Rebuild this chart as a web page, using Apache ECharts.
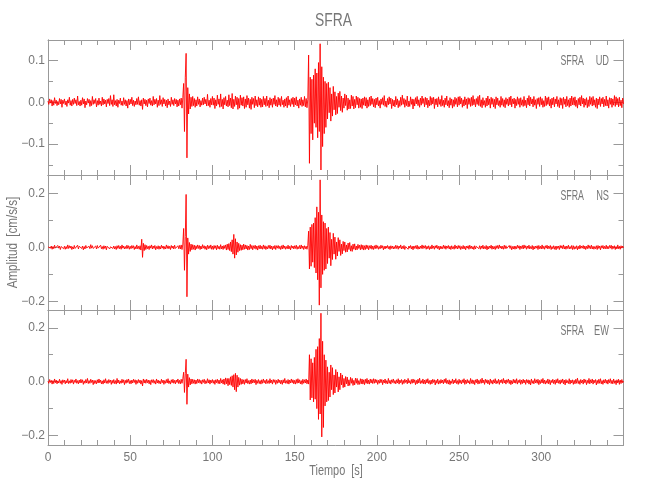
<!DOCTYPE html>
<html>
<head>
<meta charset="utf-8">
<script src="https://cdn.jsdelivr.net/npm/echarts@6/dist/echarts.min.js"></script>
<style>html,body{margin:0;padding:0;background:#fff}#chart{width:650px;height:500px}</style>
</head>
<body>
<div id="chart"></div>
<script>
// Sampling: first sample at 0 s, one sample every 0.5 s
const sampleStart = 0;
const sampleStep = 0.5;
// Trace values below are written in units of 0.001 cm/s/s
const valueUnit = 0.001;

// Vertical component (UD), 10 s per row
const udValues = [
3,-5,8,-2,6,-9,4,-7,11,-3,5,-8,2,-6,9,-4,7,-12,5,-3,
8,-6,3,-10,6,-2,12,-7,4,-9,7,-5,10,-3,6,-8,15,-6,2,-9,
5,-7,11,-4,8,-13,3,-6,9,-2,7,-10,4,-8,14,-5,6,-3,9,-11,
4,-7,10,-5,3,-9,12,-6,8,-4,5,-11,7,-3,9,-8,16,-5,6,-10,
18,-6,4,-9,7,-12,5,-3,10,-7,3,-8,11,-5,6,-9,4,-14,8,-6,
7,-4,12,-8,5,-10,3,-6,9,-5,13,-7,4,-9,6,-17,10,-4,7,-8,
5,-11,8,-3,10,-7,4,-9,14,-6,7,-4,9,-12,5,-8,16,-5,6,-10,
11,-4,7,-9,5,-13,8,-6,3,-10,12,-5,6,-8,9,-4,7,-11,5,-9,
8,-6,10,-14,12,45,-70,60,117,-133,35,-28,20,-16,12,-10,14,-8,9,-12,
6,-9,13,-5,8,-11,4,-7,10,-6,12,-4,7,-9,19,-8,5,-12,9,-6,
14,-7,10,-15,6,-9,17,-5,8,-12,20,-10,7,-16,11,-6,14,-9,5,-11,
18,-8,10,-13,21,-16,7,-10,15,-6,12,-17,9,-14,17,-7,11,-9,13,-15,
8,-12,16,-6,10,-14,7,-17,12,-5,9,-13,15,-8,6,-11,13,-7,10,-12,
7,-11,14,-6,9,-10,15,-8,5,-13,11,-7,8,-12,10,-5,16,-9,6,-11,
12,-7,9,-10,14,-6,5,-12,8,-9,11,-13,15,-7,6,-10,9,-5,12,-11,
10,-6,13,-9,5,-14,8,-7,12,-10,6,-8,14,-11,9,-13,7,113,-146,60,
-75,55,-90,65,-50,80,-60,70,-85,95,-70,140,-162,85,-106,60,-75,50,-60,45,
-40,48,-25,35,-45,20,-33,38,-18,25,-30,14,-27,22,-12,26,-20,15,-24,10,
-14,20,-8,17,-19,10,-16,6,-15,17,-9,14,-16,7,-13,15,-6,12,-14,9,
-12,8,-15,10,-7,13,-9,11,-14,6,-10,12,-8,15,-5,9,-11,7,-13,10,
-6,12,-9,4,-14,8,-5,11,-7,16,-10,3,-12,9,-6,13,-4,10,-15,7,
-9,5,-11,14,-6,8,-13,4,-10,12,-7,17,-5,9,-12,6,-8,15,-11,3,
-10,13,-5,8,-16,7,-9,11,-4,14,-8,6,-12,10,-7,15,-3,9,-11,12,
-6,10,-13,5,-9,14,-7,11,-4,12,-15,8,-6,9,-11,13,-5,7,-10,16,
-8,5,-12,10,-6,15,-9,4,-13,11,-7,8,-14,6,-10,12,-5,9,-11,13,
-7,14,-4,10,-12,6,-9,13,-6,8,-15,11,-5,9,-10,12,-8,16,-6,7,
-11,9,-5,14,-8,17,-10,6,-13,11,-7,4,-12,10,-9,15,-6,8,-14,12,
-5,9,-11,7,-15,13,-6,10,-8,4,-12,14,-7,9,-10,6,-13,11,-5,8,
-9,12,-6,15,-11,8,-4,10,-14,7,-8,13,-5,9,-12,11,-7,6,-10,14,
-8,5,-13,10,-6,16,-9,12,-4,8,-11,14,-7,6,-15,9,-5,11,-10,13,
-6,9,-12,4,-10,15,-8,11,-5,13,-9,7,-14,10,-6,12,-11,8,-4,14,
-10,6,-13,11,-7,9,-15,12,-5,8,-11,14,-8,6,-12,10,-9,15,-6,11,
-7,13,-10,5,-14,9,-6,12,-9,16,-4,10,-12,8,-7,11,-13,6,-10,14,
-5,11,-9,14,-7,6,-12,10,-15,8,-6,13,-10,9,-4,12,-11,7,-8,15,
-9,6,-14,11,-5,10,-12,8,-7,16,-10,13,-6,9,-11,12,-8,5,-13,10,
-4
];

// North-south component (NS), 10 s per row
const nsValues = [
2,-4,6,-3,5,-7,3,-5,8,-2,4,-6,7,-3,5,-8,3,-4,6,-5,
4,-7,3,-5,9,-4,6,-3,5,-8,2,-6,7,-4,3,-5,8,-6,4,-3,
6,-4,5,-9,3,-6,7,-2,5,-7,4,-5,10,-3,6,-4,3,-8,5,-6,
7,-3,4,-6,8,-5,3,-7,6,-4,5,-9,4,-3,7,-6,2,-5,8,-4,
5,-6,3,-8,6,-4,7,-5,4,-7,9,-3,5,-6,3,-5,8,-4,6,-7,
4,-5,7,-3,6,-8,3,-6,9,-5,4,-7,6,-10,30,-37,15,-12,10,-8,
7,-5,4,-8,6,-3,9,-6,5,-4,7,-9,3,-5,6,-7,4,-6,8,-3,
5,-7,3,-6,9,-4,6,-5,4,-8,7,-3,5,-6,8,-4,3,-7,6,-5,
7,-6,9,-8,12,70,-85,40,196,-183,35,-25,18,-15,12,-9,10,-7,8,-10,
6,-5,9,-4,7,-8,5,-6,10,-3,6,-7,4,-9,8,-5,6,-4,9,-7,
5,-8,7,-4,6,-9,8,-5,4,-7,10,-6,5,-8,7,-4,9,-10,12,-8,
14,-12,20,-16,28,-25,48,-40,32,-28,20,-18,15,-12,10,-11,8,-9,12,-7,
9,-6,7,-10,5,-8,11,-5,7,-9,6,-4,8,-7,5,-10,6,-5,8,-6,
4,-7,9,-5,6,-8,3,-6,7,-4,8,-6,5,-9,4,-5,7,-8,6,-3,
7,-5,4,-8,6,-6,9,-4,5,-7,3,-5,8,-6,4,-9,7,-3,5,-6,
6,-4,8,-7,3,-5,7,-6,9,-4,5,-8,6,-5,4,-7,8,60,-80,75,
-70,85,-55,90,-75,110,-95,150,-120,130,-214,250,-150,120,-100,95,-85,90,-80,70,
-60,75,-40,55,-68,30,-45,52,-25,38,-44,20,-32,36,-15,28,-30,12,-24,22,
-12,20,-18,9,-17,16,-8,18,-14,6,-15,12,-7,13,-10,5,-9,11,-4,8,
-9,10,-7,8,-10,6,-8,9,-5,7,-9,6,-4,8,-7,5,-8,6,-5,9,
-4,6,-7,3,-5,8,-3,6,-9,4,-6,5,-3,7,-5,4,-8,6,-4,5,
-6,3,-5,8,-4,6,-7,5,-3,9,-6,4,-5,7,-8,3,-4,6,-7,5,
-3,7,-6,4,-9,5,-4,6,-5,8,-7,3,-6,5,-4,9,-5,6,-3,7,
-7,4,-5,6,-8,3,-6,9,-4,5,-7,6,-3,8,-5,4,-9,5,-6,3,
-5,8,-4,6,-7,5,-3,7,-6,4,-8,6,-5,3,-7,9,-4,5,-6,7,
-4,6,-8,3,-5,7,-6,4,-9,5,-3,6,-7,8,-4,5,-6,3,-8,6,
-6,4,-3,9,-5,6,-7,5,-4,8,-6,3,-5,7,-9,4,-6,5,-3,8,
-7,5,-6,3,-8,6,-4,7,-5,9,-3,5,-6,4,-7,8,-5,6,-4,3,
-5,7,-4,6,-9,3,-6,5,-7,4,-5,8,-3,6,-8,5,-4,7,-6,9,
-3,6,-7,5,-4,8,-6,3,-5,7,-9,4,-6,5,-3,6,-8,7,-5,4,
-6,9,-5,4,-7,6,-3,8,-6,5,-4,7,-8,3,-5,6,-7,4,-9,5,
-4,5,-8,7,-3,6,-5,9,-6,4,-7,5,-4,8,-6,3,-5,7,-8,6,
-7,3,-5,6,-9,4,-6,8,-4,5,-3,7,-6,5,-8,4,-5,9,-4,6,
-5,8,-6,4,-7,3,-5,6,-8,7,-4,5,-9,6,-3,7,-6,4,-5,8,
-6,4,-5,7,-3,8,-7,5,-4,6,-8,3,-6,9,-5,4,-7,6,-3,5,
-2
];

// East-west component (EW), 10 s per row
const ewValues = [
2,-6,8,-3,5,-9,4,-7,10,-4,6,-8,3,-5,9,-6,4,-10,7,-3,
6,-8,4,-5,11,-7,3,-6,8,-4,7,-9,5,-3,10,-6,4,-8,6,-5,
9,-4,7,-10,3,-6,8,-5,12,-7,4,-6,9,-3,6,-11,5,-7,4,-8,
7,-5,10,-4,6,-8,3,-9,7,-5,11,-6,4,-7,8,-3,6,-10,5,-6,
8,-7,4,-9,12,-5,6,-8,3,-6,9,-4,7,-11,5,-6,8,-3,10,-7,
4,-8,6,-5,9,-3,7,-10,5,-6,8,-4,6,-9,4,-16,10,-5,7,-6,
9,-4,6,-8,5,-11,7,-3,8,-6,4,-9,10,-5,6,-7,3,-8,9,-4,
6,-10,4,-6,8,-5,11,-7,3,-9,7,-4,9,-6,5,-8,6,-3,10,-7,
5,-8,9,-6,12,35,-40,30,83,-84,28,-20,15,-12,10,-8,9,-6,7,-9,
6,-7,10,-4,8,-6,5,-9,7,-3,9,-8,4,-6,11,-5,7,-9,6,-4,
8,-6,5,-10,7,-4,9,-7,6,-8,12,-5,7,-9,10,-11,14,-8,12,-15,
12,-11,18,-14,22,-20,26,-30,31,-37,24,-20,16,-13,12,-10,9,-8,7,-10,
8,-5,11,-7,4,-9,6,-8,10,-5,7,-4,9,-11,5,-6,8,-7,4,-9,
7,-6,10,-4,5,-8,9,-6,4,-7,11,-5,6,-9,8,-3,7,-10,5,-6,
9,-4,6,-8,5,-10,7,-5,12,-6,4,-7,8,-9,6,-5,10,-4,7,-8,
5,-9,8,-6,11,-5,7,-8,4,-10,9,-6,7,-5,10,-8,6,-9,100,-68,
85,-60,70,-75,90,-65,120,-100,130,-140,160,-120,254,-205,150,-170,100,-90,80,-75,
55,-70,35,-57,62,-30,52,-48,25,-42,45,-20,36,-38,18,-30,32,-12,25,-22,
12,-20,19,-8,17,-16,7,-14,16,-6,12,-14,5,-12,13,-6,12,-11,4,-10,
11,-8,10,-9,7,-11,9,-6,12,-8,6,-9,10,-5,8,-7,11,-6,9,-4,
7,-10,5,-6,9,-4,8,-11,6,-5,10,-7,4,-8,12,-6,5,-9,7,-3,
10,-6,4,-8,7,-5,11,-9,6,-4,8,-10,5,-7,9,-3,6,-8,12,-5,
4,-9,8,-6,10,-4,7,-11,5,-8,9,-5,13,-7,4,-6,10,-8,6,-9,
8,-5,11,-7,4,-10,6,-8,9,-3,7,-12,5,-6,10,-9,4,-7,8,-5,
6,-8,9,-4,12,-7,5,-9,7,-11,3,-6,10,-8,6,-5,11,-7,4,-10,
9,-6,5,-8,7,-4,11,-10,6,-7,8,-5,4,-9,12,-6,7,-8,5,-11,
7,-4,10,-9,5,-7,8,-6,13,-5,6,-10,9,-4,7,-8,5,-11,10,-6,
5,-9,7,-5,11,-8,4,-6,9,-10,6,-4,8,-7,12,-5,6,-9,7,-3,
10,-7,6,-11,4,-8,9,-5,7,-6,11,-9,5,-4,8,-10,6,-7,9,-5,
6,-10,8,-4,7,-9,5,-12,10,-6,4,-8,11,-5,7,-6,9,-11,5,-7,
8,-5,12,-7,6,-9,4,-6,10,-8,7,-11,5,-4,9,-7,6,-10,8,-5,
11,-6,5,-9,7,-4,10,-8,6,-12,8,-5,4,-7,11,-9,6,-5,7,-10,
5,-8,9,-6,13,-7,4,-10,8,-5,6,-9,10,-4,7,-11,5,-6,12,-8,
7,-5,10,-9,6,-4,8,-12,5,-7,9,-6,11,-8,4,-10,7,-5,9,-6,
6,-9,8,-4,11,-7,5,-8,10,-6,4,-11,7,-5,9,-10,6,-7,8,-4,
2
];

// Axis ranges and tick values for each panel (cm/s/s)
const xRange = [0, 350];
const xTickStep = 50;
const panelYRanges = [[-0.174, 0.149], [-0.232, 0.268], [-0.235, 0.266]];
const panelMajorTicks = [[-0.1, 0, 0.1], [-0.2, 0, 0.2], [-0.2, 0, 0.2]];
const panelMinorTicks = [[-0.15, -0.05, 0.05], [-0.1, 0.1], [-0.1, 0.1]];
const stationName = 'SFRA';
const channelNames = ['UD', 'NS', 'EW'];
const traces = [udValues, nsValues, ewValues];

const chart = echarts.init(document.getElementById('chart'), null, {renderer: 'canvas'});

const font = "'Liberation Sans',Arial,sans-serif";
const axisColor = '#999999';
const textColor = '#777777';
const gridTops = [40, 175, 310];
const gridH = 135;
const gridLeft = 48;
const gridW = 575.5;

const grids = [], xAxes = [], yAxes = [], series = [], graphics = [];

function fmt(v) {
  const s = Math.abs(v).toFixed(1);
  return v < -1e-9 ? '\u2212' + s : s;
}

function yAxisDef(g, pos, ticks, len, labels) {
  const [ymin, ymax] = panelYRanges[g % 3];
  return {
    type: 'value', gridIndex: g, position: pos, min: ymin, max: ymax,
    axisLine: {show: true, onZero: false, lineStyle: {color: axisColor, width: 1}},
    axisTick: {show: true, inside: true, length: len, customValues: ticks, lineStyle: {color: axisColor}},
    splitLine: {show: false},
    axisLabel: labels ? {show: true, customValues: ticks, formatter: fmt, margin: 3, color: textColor, fontFamily: font, fontSize: 12} : {show: false}
  };
}

// main grids (0..2): x bottom/top with major+minor ticks, y left/right major ticks
for (let g = 0; g < 3; g++) {
  grids.push({left: gridLeft, top: gridTops[g], width: gridW, height: gridH});
  ['bottom', 'top'].forEach(pos => {
    xAxes.push({
      type: 'value', gridIndex: g, position: pos, min: xRange[0], max: xRange[1], interval: xTickStep,
      axisLine: {show: true, onZero: false, lineStyle: {color: axisColor, width: 1}},
      axisTick: {show: true, inside: true, length: 10, lineStyle: {color: axisColor}},
      minorTick: {show: true, splitNumber: 5, length: 5, lineStyle: {color: axisColor}},
      splitLine: {show: false}, minorSplitLine: {show: false},
      axisLabel: {show: g === 2 && pos === 'bottom', margin: 7, color: textColor, fontFamily: font, fontSize: 12, showMaxLabel: false}
    });
  });
  yAxes.push(yAxisDef(g, 'left', panelMajorTicks[g], 10, true));
  yAxes.push(yAxisDef(g, 'right', panelMajorTicks[g], 10, false));
  series.push({
    type: 'line', xAxisIndex: 2 * g, yAxisIndex: 2 * g,
    data: traces[g].map((v, i) => [sampleStart + i * sampleStep, v * valueUnit]),
    showSymbol: false, symbol: 'none', sampling: 'none', animation: false,
    lineStyle: {color: '#ff0000', width: 0.9},
    clip: true, silent: true
  });
}
// overlay grids (3..5): minor y ticks on both sides
for (let g = 0; g < 3; g++) {
  const gi = 3 + g;
  grids.push({left: gridLeft, top: gridTops[g], width: gridW, height: gridH});
  xAxes.push({type: 'value', gridIndex: gi, min: xRange[0], max: xRange[1], show: false});
  yAxes.push(yAxisDef(gi, 'left', panelMinorTicks[g], 5, false));
  yAxes.push(yAxisDef(gi, 'right', panelMinorTicks[g], 5, false));
}

for (let g = 0; g < 3; g++) {
  graphics.push({type: 'text', x: 584, y: gridTops[g] + 21, scaleX: 0.63, style: {text: stationName, align: 'right', verticalAlign: 'middle', fill: textColor, font: '14px ' + font}});
  graphics.push({type: 'text', x: 609, y: gridTops[g] + 21, scaleX: 0.66, style: {text: channelNames[g], align: 'right', verticalAlign: 'middle', fill: textColor, font: '14px ' + font}});
}
graphics.push({type: 'text', x: 333.5, y: 21.5, scaleX: 0.77, style: {text: stationName, align: 'center', verticalAlign: 'middle', fill: textColor, font: '18px ' + font}});
graphics.push({type: 'text', x: 13.5, y: 242.5, rotation: Math.PI / 2, scaleX: 0.83, style: {text: 'Amplitud  [cm/s/s]', align: 'center', verticalAlign: 'middle', fill: textColor, font: '14px ' + font}});
graphics.push({type: 'text', x: 336, y: 471.5, scaleX: 0.78, style: {text: 'Tiempo  [s]', align: 'center', verticalAlign: 'middle', fill: textColor, font: '14px ' + font}});

chart.setOption({
  animation: false,
  backgroundColor: '#ffffff',
  grid: grids, xAxis: xAxes, yAxis: yAxes, series: series, graphic: graphics
});
</script>
</body>
</html>
